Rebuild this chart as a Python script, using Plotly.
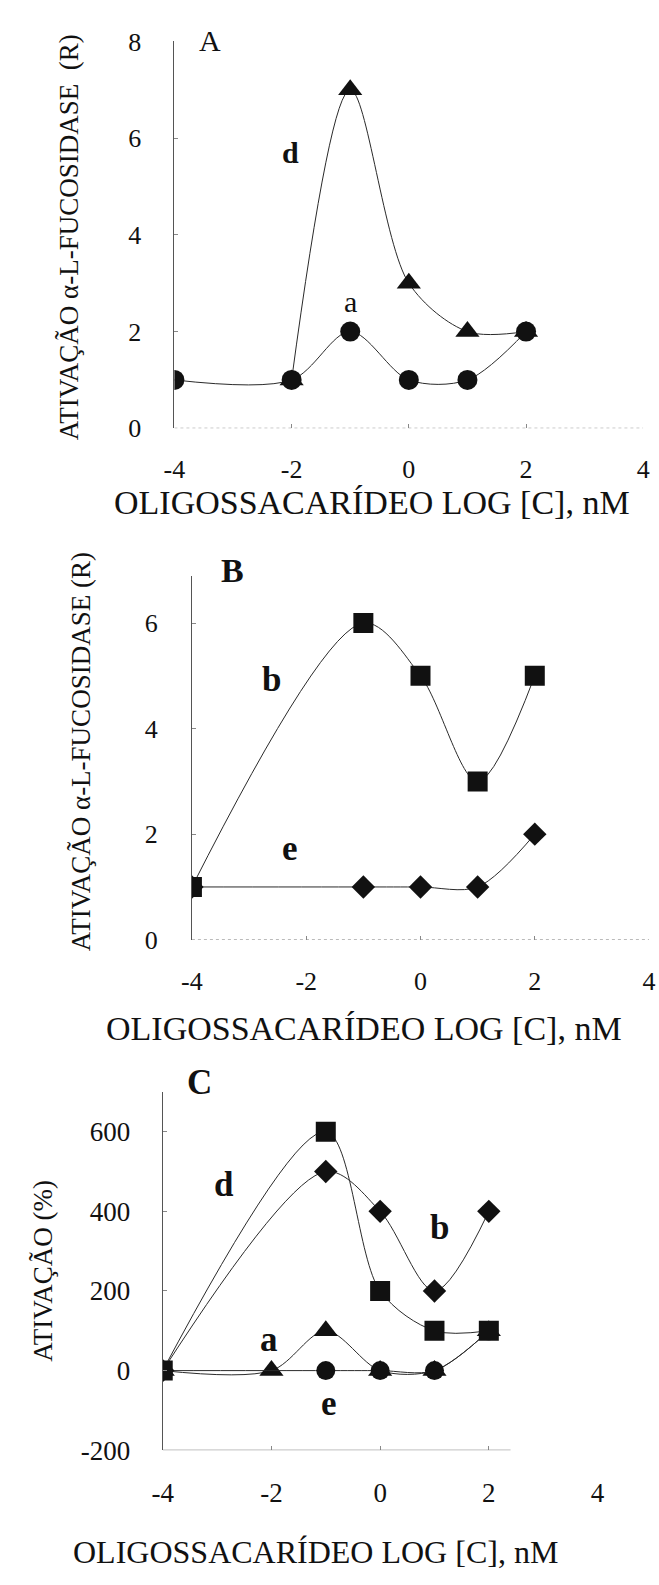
import plotly.graph_objects as go

W, H = 659, 1585

# ---- Panel A: alpha-L-fucosidase activation ratio (R)
a_x = [-4, -2, -1, 0, 1, 2]
a_r = [1, 1, 2, 1, 1, 2]
d_x = [-2, -1, 0, 1, 2]
d_r = [1, 7, 3, 2, 2]

# ---- Panel B: activation ratio (R)
b_x = [-4, -1, 0, 1, 2]
b_r = [1, 6, 5, 3, 5]
e_x = [-4, -1, 0, 1, 2]
e_r = [1, 1, 1, 1, 2]

# ---- Panel C: activation (%)
ca_x = [-4, -2, -1, 0, 1, 2]
ca_pct = [0, 0, 100, 0, 0, 100]
cb_x = [-4, -1, 0, 1, 2]
cb_pct = [0, 500, 400, 200, 400]
cd_x = [-4, -1, 0, 1, 2]
cd_pct = [0, 600, 200, 100, 100]
ce_x = [-4, -1, 0, 1, 2]
ce_pct = [0, 0, 0, 0, 100]

# ---- tick labels
x_ticks = [-4, -2, 0, 2, 4]
x_ticktext = ["-4", "-2", "0", "2", "4"]
ya_ticks = [0, 2, 4, 6, 8]
yb_ticks = [0, 2, 4, 6]
yc_ticks = [-200, 0, 200, 400, 600]
yc_ticktext = ["-200", "0", "200", "400", "600"]

SERIF = "Liberation Serif, Times New Roman, serif"
INK = "#111111"
LINE = "#2a2a2a"


def px_x(v):
    return v / W


def px_y(v):
    return 1 - v / H


fig = go.Figure()


def series(x, y, symbol, size, xa, ya):
    fig.add_trace(go.Scatter(
        x=x, y=y, xaxis=xa, yaxis=ya, mode="lines+markers",
        line=dict(color=LINE, width=1, shape="spline", smoothing=0.9),
        marker=dict(symbol=symbol, size=size, color=INK,
                    line=dict(width=0)),
        showlegend=False, hoverinfo="skip"))


# Panel A
series(d_x, d_r, "triangle-up", 21, "x", "y")
series(a_x, a_r, "circle", 20, "x", "y")
# Panel B
series(e_x, e_r, "diamond", 18, "x2", "y2")
series(b_x, b_r, "square", 20, "x2", "y2")
# Panel C
series(ca_x, ca_pct, "triangle-up", 21, "x3", "y3")
series(ce_x, ce_pct, "circle", 19, "x3", "y3")
series(cb_x, cb_pct, "diamond", 18, "x3", "y3")
series(cd_x, cd_pct, "square", 20, "x3", "y3")

tickfont = dict(family=SERIF, size=26, color=INK)
tickfont_c = dict(family=SERIF, size=27, color=INK)


def xaxis(dom, anchor, font, stand):
    return dict(domain=dom, anchor=anchor, range=[-4, 4],
                tickvals=x_ticks, ticktext=x_ticktext, tickfont=font,
                ticks="inside", ticklen=4, tickcolor="#888",
                showline=False, showgrid=False, zeroline=False,
                ticklabelstandoff=stand)


def yaxis(dom, anchor, rng, vals, text, font, stand):
    return dict(domain=dom, anchor=anchor, range=rng,
                tickvals=vals, ticktext=text, tickfont=font,
                ticks="inside", ticklen=4, tickcolor="#888",
                showline=True, linecolor="#555", linewidth=1,
                showgrid=False, zeroline=False,
                ticklabelstandoff=stand)


fig.update_layout(
    width=W, height=H, autosize=False,
    margin=dict(l=0, r=0, t=0, b=0),
    paper_bgcolor="white", plot_bgcolor="white",
    xaxis=xaxis([px_x(168), px_x(650)], "y", tickfont, 23),
    yaxis=yaxis([px_y(422), px_y(28)], "x", [0, 8], ya_ticks,
                [str(v) for v in ya_ticks], tickfont, 27),
    xaxis2=xaxis([px_x(186), px_x(656)], "y2", tickfont, 23),
    yaxis2=yaxis([px_y(943), px_y(572)], "x2", [0, 6.9], yb_ticks,
                 [str(v) for v in yb_ticks], tickfont, 28),
    xaxis3=xaxis([px_x(156), px_x(603)], "y3", tickfont_c, 24),
    yaxis3=yaxis([px_y(1463), px_y(1098)], "x3", [-200, 700], yc_ticks,
                 yc_ticktext, tickfont_c, 26),
)

# dotted baselines along the bottom of each panel
fig.add_shape(type="line", xref="x", yref="y", x0=-4, x1=4, y0=0, y1=0,
              line=dict(color="#888", width=1, dash="dot"))
fig.add_shape(type="line", xref="x2", yref="y2", x0=-4, x1=4, y0=0, y1=0,
              line=dict(color="#888", width=1, dash="dot"))
fig.add_shape(type="line", xref="x3", yref="y3", x0=-4, x1=2.4,
              y0=-200, y1=-200,
              line=dict(color="#777", width=1))


def label(text, x, y, size, bold=False, angle=0):
    fig.add_annotation(
        text=text, x=px_x(x), y=px_y(y), xref="paper", yref="paper",
        xanchor="center", yanchor="middle", showarrow=False,
        textangle=angle,
        font=dict(family=SERIF, size=size, color=INK,
                  weight="bold" if bold else "normal"))


X_TITLE = "OLIGOSSACARÍDEO LOG [C], nM"
Y_TITLE_R = "ATIVAÇÃO α-L-FUCOSIDASE (R)"

# Panel A text
label("A", 205, 27, 30)
label("d", 287, 141, 30, bold=True)
label("a", 349, 293, 30)
label("ATIVAÇÃO α-L-FUCOSIDASE \u00a0(R)", 59, 227, 27, angle=-90)
label(X_TITLE, 371, 498, 34)

# Panel B text
label("B", 228, 567, 34, bold=True)
label("b", 268, 678, 35, bold=True)
label("e", 287, 850, 35, bold=True)
label(Y_TITLE_R, 72, 752, 27, angle=-90)
label(X_TITLE, 363, 1033, 34)

# Panel C text
label("C", 194, 1088, 35, bold=True)
label("d", 219, 1192, 35, bold=True)
label("b", 441, 1236, 35, bold=True)
label("a", 265, 1350, 35, bold=True)
label("e", 327, 1415, 35, bold=True)
label("ATIVAÇÃO (%)", 32, 1280, 27, angle=-90)
label(X_TITLE, 313, 1567, 32)

fig.write_html("out.html")
